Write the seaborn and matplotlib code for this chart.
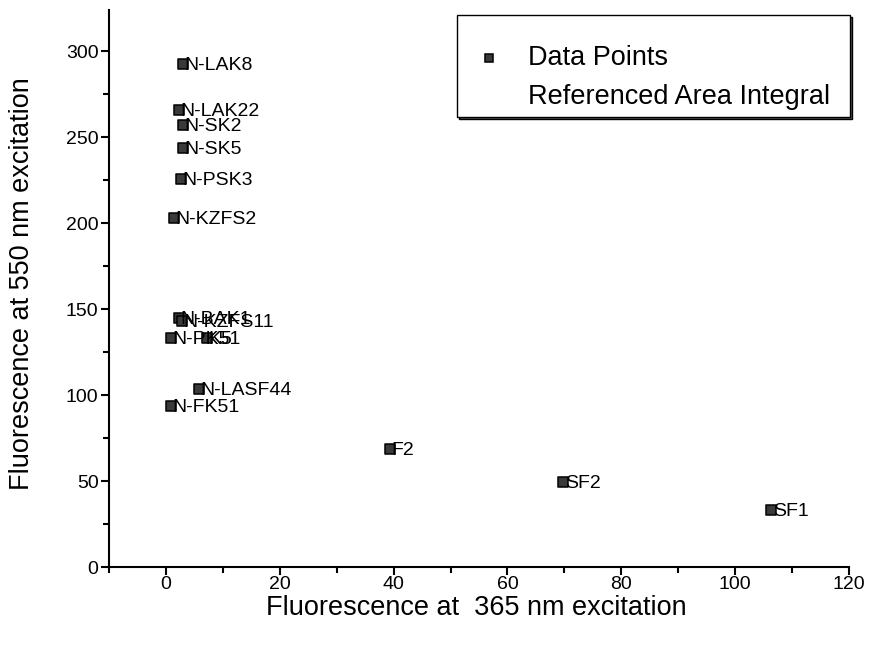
import matplotlib
matplotlib.use("Agg")
import matplotlib.pyplot as plt
import seaborn as sns
import pandas as pd
from matplotlib.patches import Rectangle
from matplotlib.lines import Line2D
from matplotlib.ticker import MultipleLocator

# ---- data ----
glasses = ["N-LAK8", "N-LAK22", "N-SK2", "N-SK5", "N-PSK3", "N-KZFS2",
           "N-BAK1", "N-KZFS11", "N-PK51", "K5", "N-LASF44", "N-FK51",
           "F2", "SF2", "SF1"]
fluo_365 = [3.0, 2.3, 3.0, 3.0, 2.6, 1.4,
            2.3, 2.8, 0.9, 7.2, 5.8, 0.9,
            39.4, 69.8, 106.3]
fluo_550 = [292.4, 266.0, 257.0, 243.6, 225.6, 203.0,
            144.8, 143.0, 133.1, 133.1, 103.5, 93.6,
            68.6, 49.4, 33.1]
x_ticks = [0, 20, 40, 60, 80, 100, 120]
y_ticks = [0, 50, 100, 150, 200, 250, 300]
legend_labels = ["Data Points", "Referenced Area Integral"]

sns.set_style("ticks")
plt.rcParams['font.family'] = ['Liberation Sans', 'DejaVu Sans']
plt.rcParams['text.color'] = 'black'
plt.rcParams['axes.labelcolor'] = 'black'

W, H = 869, 653
fig = plt.figure(figsize=(W / 100, H / 100), dpi=100)
ax = fig.add_axes([109 / W, 1 - 567 / H, (849 - 109) / W, (567 - 10) / H])

df = pd.DataFrame({"glass": glasses, "x": fluo_365, "y": fluo_550})
sns.scatterplot(data=df, x="x", y="y", marker="s", s=42, color="#3a3a3a",
                edgecolor="black", linewidth=1.1, ax=ax, legend=False, zorder=3)

for g, xv, yv in zip(glasses, fluo_365, fluo_550):
    ax.annotate(g, (xv, yv), xytext=(1.2, -1.0), textcoords="offset points",
                ha="left", va="center", fontsize=14, color="black", zorder=4)

ax.set_xlim(-10, 120)
ax.set_ylim(0, 324)
ax.set_xticks(x_ticks)
ax.set_yticks(y_ticks)
ax.xaxis.set_minor_locator(MultipleLocator(10))
ax.yaxis.set_minor_locator(MultipleLocator(25))
ax.tick_params(axis="both", which="major", direction="out", length=6, width=1.5,
               labelsize=14, colors="black")
ax.tick_params(axis="x", which="major", pad=0.5)
ax.tick_params(axis="y", which="major", pad=1.5)
ax.tick_params(axis="both", which="minor", direction="out", length=4, width=1.5,
               colors="black")
for side in ["top", "right"]:
    ax.spines[side].set_visible(False)
for side in ["left", "bottom"]:
    ax.spines[side].set_linewidth(1.5)
    ax.spines[side].set_color("black")

ax.set_xlabel("Fluorescence at  365 nm excitation", fontsize=19.5, va="center",
              color="black")
ax.set_ylabel("Fluorescence at 550 nm excitation", fontsize=19.5, va="center",
              color="black")
ax.xaxis.set_label_coords((476.5 - 109) / 740, (567 - 608) / 557)
ax.yaxis.set_label_coords((22 - 109) / 740, (567 - 283.5) / 557)

# ---- legend box (Origin style with thin shadow) ----
def fx(px):
    return px / W

def fy(py):
    return 1 - py / H

bx0, by0, bx1, by1 = 457, 15, 850, 117
shadow = Rectangle((fx(bx0 + 2), fy(by1 + 2)), fx(bx1 - bx0), (by1 - by0) / H,
                   transform=fig.transFigure, facecolor="#555555", edgecolor="black",
                   linewidth=1.0, zorder=5)
box = Rectangle((fx(bx0), fy(by1)), fx(bx1 - bx0), (by1 - by0) / H,
                transform=fig.transFigure, facecolor="white", edgecolor="black",
                linewidth=1.0, zorder=6)
fig.add_artist(shadow)
fig.add_artist(box)
mk = Line2D([fx(489)], [fy(58)], marker="s", markersize=6.4, linestyle="none",
            markerfacecolor="#3a3a3a", markeredgecolor="black", markeredgewidth=1.1,
            transform=fig.transFigure, zorder=7)
fig.add_artist(mk)
fig.text(fx(528), fy(58), legend_labels[0], fontsize=19.5, ha="left", va="center",
         color="black", zorder=7)
fig.text(fx(528), fy(97), legend_labels[1], fontsize=19.5, ha="left", va="center",
         color="black", zorder=7)

fig.savefig("out.png", dpi=100)
